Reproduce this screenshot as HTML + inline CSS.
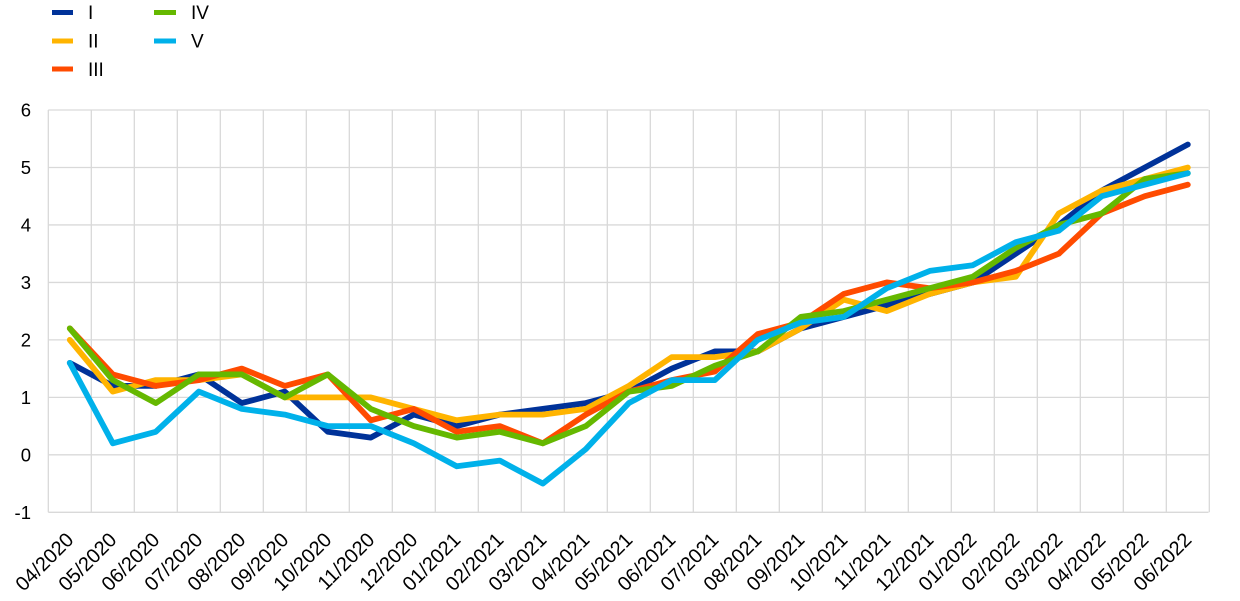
<!DOCTYPE html>
<html><head><meta charset="utf-8"><style>
html,body{margin:0;padding:0;background:#fff;}
svg{display:block;font-family:"Liberation Sans",Arial,sans-serif;}
</style></head><body>
<svg width="1240" height="601" viewBox="0 0 1240 601" xmlns="http://www.w3.org/2000/svg">
<rect width="1240" height="601" fill="#fff"/>
<g id="grid" stroke="#d9d9d9" stroke-width="1.3" fill="none"></g>
<g id="ylab" font-size="18.5" fill="#000" text-anchor="end"></g>
<g id="xlab" font-size="20" fill="#000" text-anchor="end"></g>
<g id="series" fill="none" stroke-width="5.8" stroke-linecap="round" stroke-linejoin="round"></g>
<g font-size="19" fill="#000">
<rect x="52" y="10" width="21" height="5" fill="#003299"/><text x="88" y="19">I</text>
<rect x="52" y="38.5" width="21" height="5" fill="#FFB400"/><text x="88" y="47.5">II</text>
<rect x="52" y="66.5" width="21" height="5" fill="#FF4B00"/><text x="88" y="76">III</text>
<rect x="154" y="10" width="22" height="5" fill="#65B800"/><text x="191" y="19">IV</text>
<rect x="154" y="38.5" width="22" height="5" fill="#00B1EA"/><text x="191" y="47.5">V</text>
</g>
</svg>
<script>
(function(){
var NS="http://www.w3.org/2000/svg";
var L=48.3,R=1208.5,T=110,B=512.3,cw=43;
function y(v){return B-(v+1)*(B-T)/7;}
function x(i){return L+cw*(i+0.5);}
var g=document.getElementById('grid');
function line(x1,y1,x2,y2){var l=document.createElementNS(NS,'line');l.setAttribute('x1',x1);l.setAttribute('y1',y1);l.setAttribute('x2',x2);l.setAttribute('y2',y2);g.appendChild(l);}
for(var v=-1;v<=6;v++){line(L,y(v),R,y(v));}
for(var i=0;i<=27;i++){line(L+cw*i,T,L+cw*i,B);}
var yl=document.getElementById('ylab');
for(var v=-1;v<=6;v++){var t=document.createElementNS(NS,'text');t.setAttribute('x',31);t.setAttribute('y',y(v)+6.7);t.textContent=v;yl.appendChild(t);}
var cats=["04/2020","05/2020","06/2020","07/2020","08/2020","09/2020","10/2020","11/2020","12/2020","01/2021","02/2021","03/2021","04/2021","05/2021","06/2021","07/2021","08/2021","09/2021","10/2021","11/2021","12/2021","01/2022","02/2022","03/2022","04/2022","05/2022","06/2022"];
var xl=document.getElementById('xlab');
cats.forEach(function(c,i){var ax=x(i)+5,ay=541;var t=document.createElementNS(NS,'text');t.setAttribute('x',ax);t.setAttribute('y',ay);t.setAttribute('transform','rotate(-45 '+ax+' '+ay+')');t.textContent=c;xl.appendChild(t);});
var S=[
["#003299",[1.6,1.2,1.2,1.4,0.9,1.1,0.4,0.3,0.7,0.5,0.7,0.8,0.9,1.1,1.5,1.8,1.8,2.2,2.4,2.6,2.8,3.0,3.5,4.0,4.6,5.0,5.4]],
["#FFB400",[2.0,1.1,1.3,1.3,1.4,1.0,1.0,1.0,0.8,0.6,0.7,0.7,0.8,1.2,1.7,1.7,1.8,2.2,2.7,2.5,2.8,3.0,3.1,4.2,4.6,4.8,5.0]],
["#FF4B00",[2.2,1.4,1.2,1.3,1.5,1.2,1.4,0.6,0.8,0.4,0.5,0.2,0.7,1.1,1.3,1.45,2.1,2.3,2.8,3.0,2.9,3.0,3.2,3.5,4.2,4.5,4.7]],
["#65B800",[2.2,1.3,0.9,1.4,1.4,1.0,1.4,0.8,0.5,0.3,0.4,0.2,0.5,1.1,1.2,1.55,1.8,2.4,2.5,2.7,2.9,3.1,3.6,4.0,4.2,4.8,4.9]],
["#00B1EA",[1.6,0.2,0.4,1.1,0.8,0.7,0.5,0.5,0.2,-0.2,-0.1,-0.5,0.1,0.9,1.3,1.3,2.0,2.3,2.4,2.9,3.2,3.3,3.7,3.9,4.5,4.7,4.9]]
];
var sg=document.getElementById('series');
S.forEach(function(s){var p=document.createElementNS(NS,'polyline');p.setAttribute('stroke',s[0]);p.setAttribute('points',s[1].map(function(v,i){return x(i).toFixed(1)+','+y(v).toFixed(1);}).join(' '));sg.appendChild(p);});
})();
</script>
</body></html>
